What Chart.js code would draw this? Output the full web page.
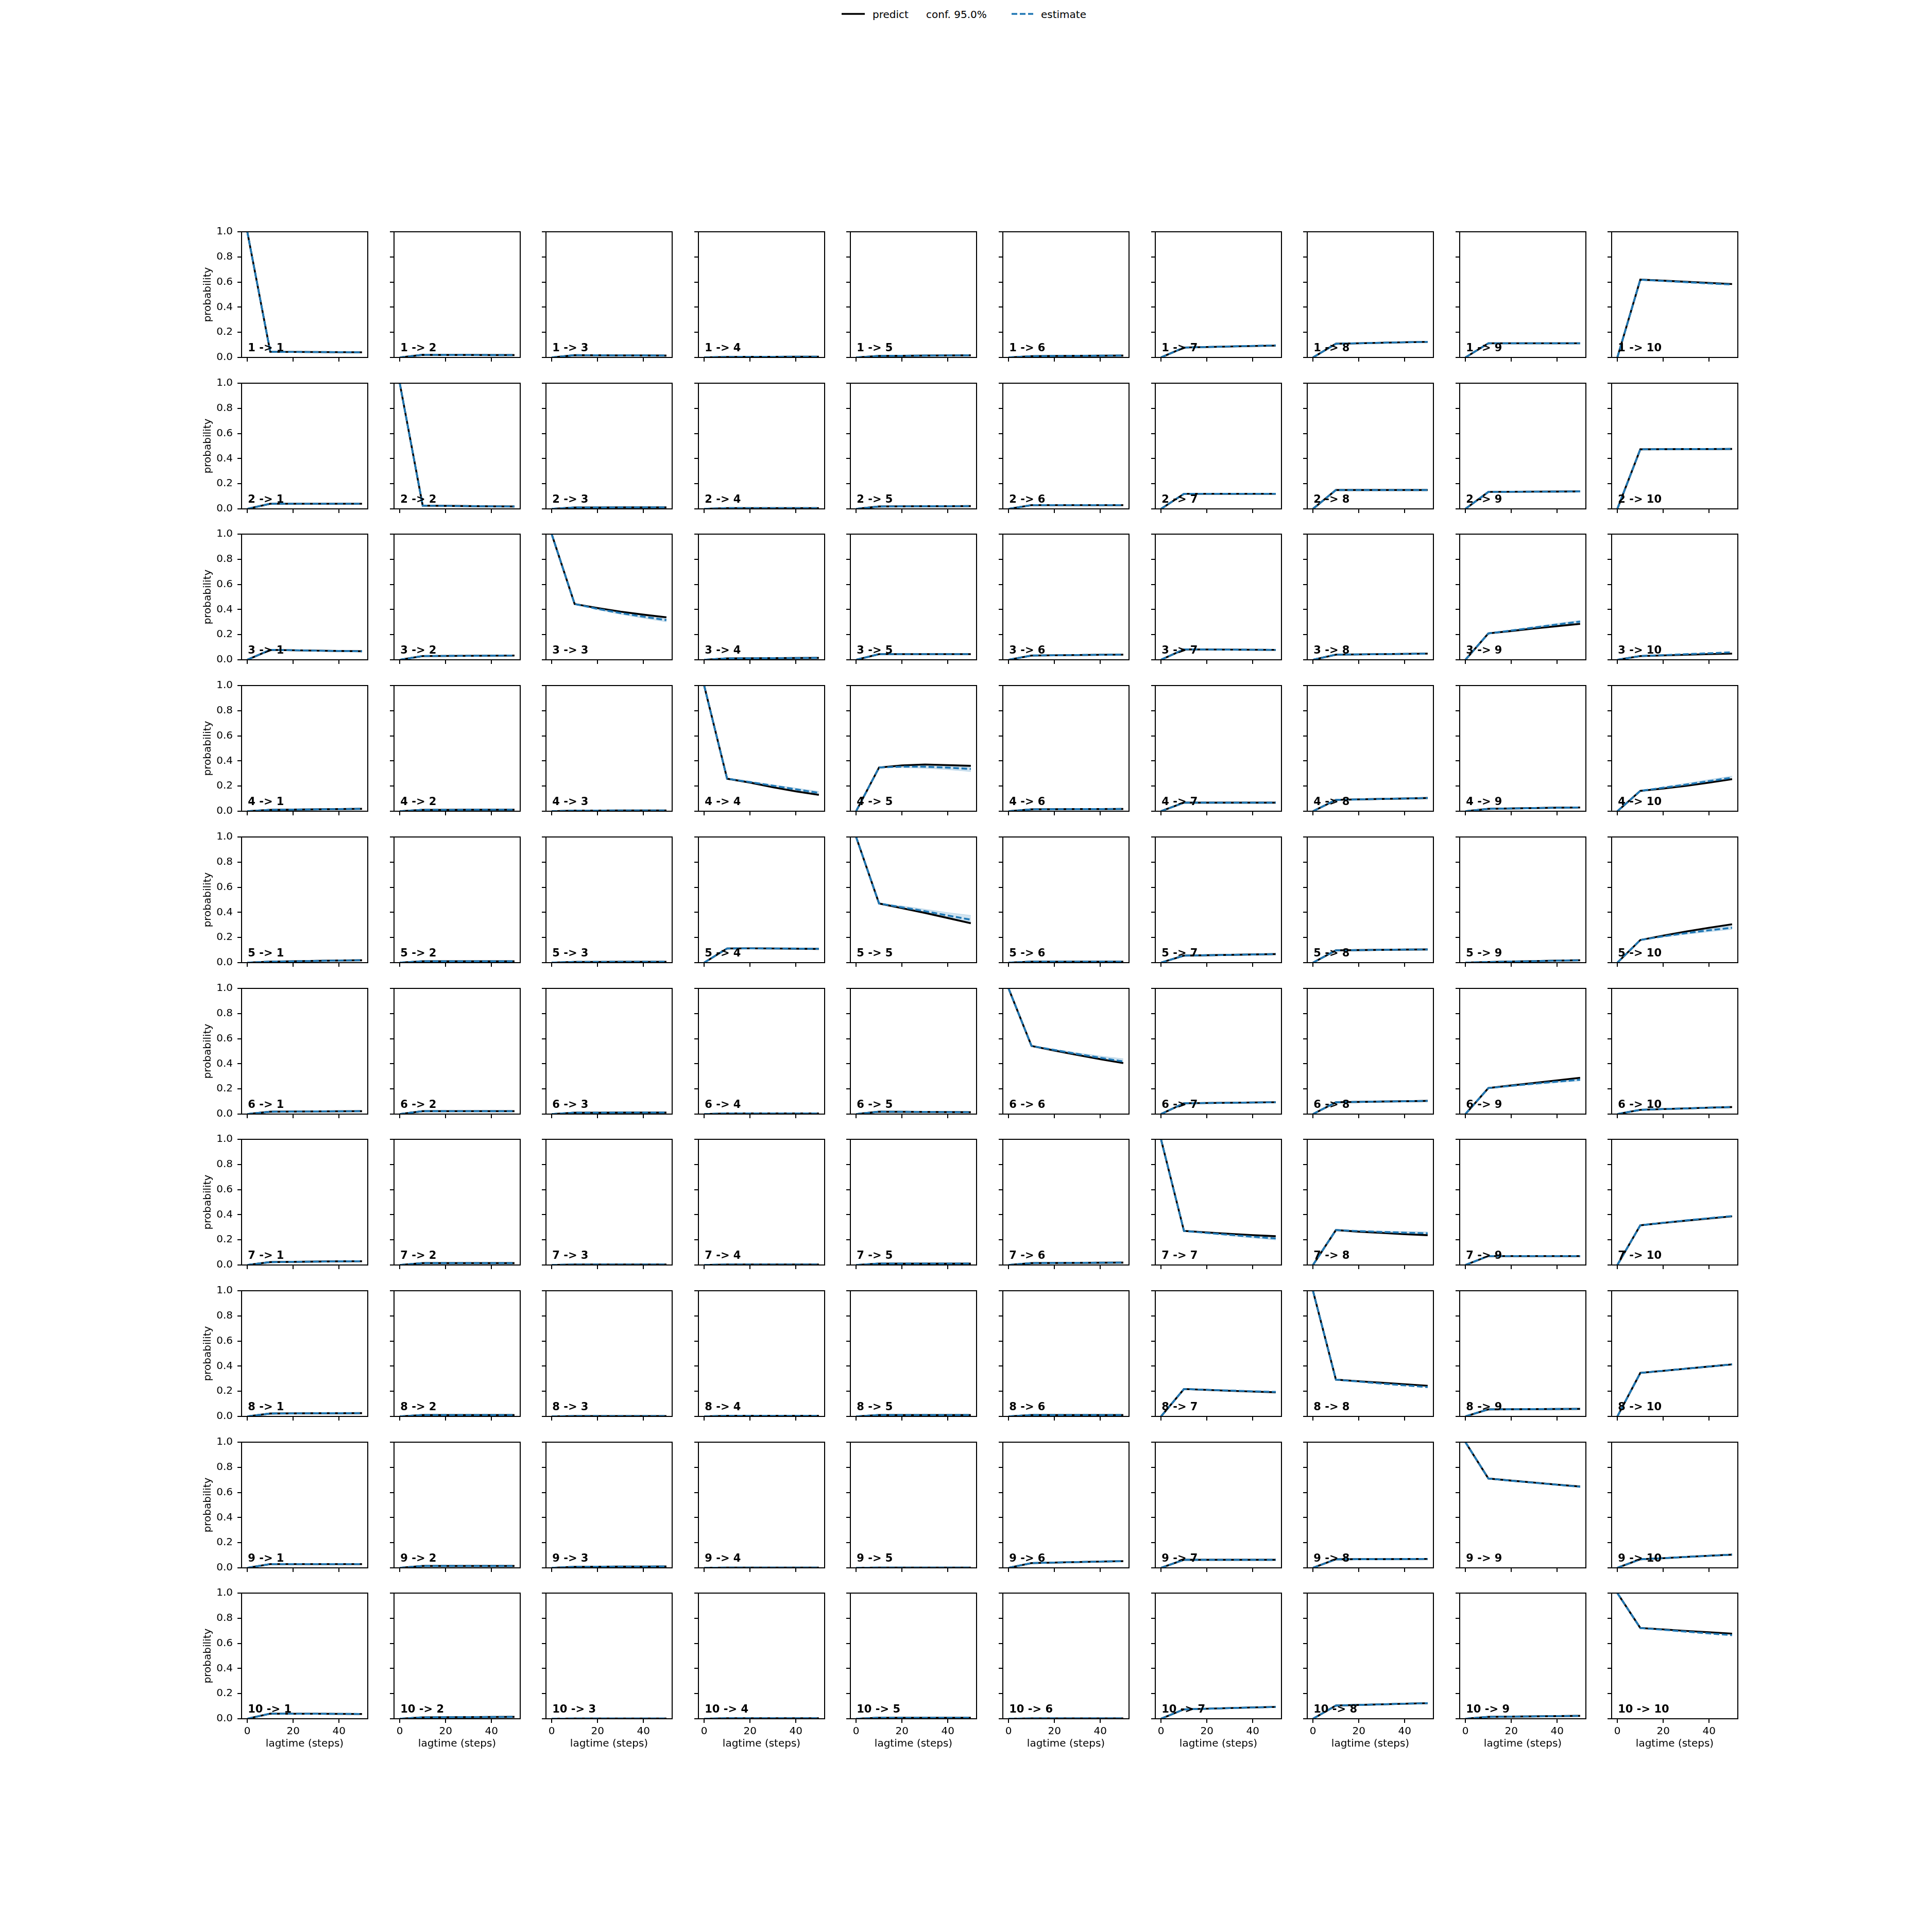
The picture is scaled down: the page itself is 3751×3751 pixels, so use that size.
<!DOCTYPE html>
<html lang="en">
<head>
<meta charset="UTF-8">
<title>Chapman-Kolmogorov test</title>
<script src="https://cdn.jsdelivr.net/npm/chart.js"></script>
<style>
  body { margin: 0; background: #fff; width: 3751px; height: 3751px; position: relative; overflow: hidden; font-family: "DejaVu Sans", sans-serif; }
  .panel { position: absolute; }
  .legend-text { position: absolute; font-size: 20px; line-height: 1; color: #000; white-space: nowrap; }
  .legend-handle { position: absolute; }
</style>
</head>
<body>

<div id="legend">
  <svg class="legend-handle" style="left:1634px; top:20px;" width="46" height="14"><line x1="0" y1="7" x2="45" y2="7" stroke="#000" stroke-width="3.6"/></svg>
  <span class="legend-text" style="left:1694px; top:18px;">predict</span>
  <span class="legend-text" style="left:1798px; top:18px;">conf. 95.0%</span>
  <svg class="legend-handle" style="left:1964px; top:20px;" width="46" height="14"><line x1="0" y1="7" x2="42" y2="7" stroke="#1f77b4" stroke-width="3.6" stroke-dasharray="11 5"/></svg>
  <span class="legend-text" style="left:2021px; top:18px;">estimate</span>
</div>
<div id="grid"></div>

<script>
const states = ['1', '2', '3', '4', '5', '6', '7', '8', '9', '10'];
const lagtimes = [0, 10, 20, 30, 40, 50];
const xTicks = [0, 20, 40];
const yTicks = [0, 0.2, 0.4, 0.6, 0.8, 1.0];

// predict[i][j] = model prediction i -> j at each lagtime
const predict = [
  [[1,.045,.044,.043,.042,.041],[0,.021,.020,.020,.019,.019],[0,.018,.017,.016,.016,.015],[0,.004,.005,.005,.006,.006],[0,.012,.013,.015,.016,.017],[0,.010,.012,.013,.014,.015],[0,.079,.083,.087,.091,.094],[0,.109,.113,.117,.121,.124],[0,.113,.113,.113,.113,.113],[0,.619,.611,.602,.593,.584]],
  [[0,.041,.041,.041,.041,.041],[1,.026,.024,.022,.020,.019],[0,.011,.011,.012,.012,.012],[0,.006,.006,.006,.006,.006],[0,.019,.020,.021,.021,.022],[0,.030,.030,.030,.030,.030],[0,.120,.120,.120,.120,.120],[0,.150,.150,.150,.150,.150],[0,.135,.136,.137,.138,.139],[0,.474,.475,.476,.476,.477]],
  [[0,.079,.076,.073,.070,.068],[0,.030,.031,.032,.033,.034],[1,.444,.412,.383,.359,.338],[0,.011,.012,.013,.014,.015],[0,.045,.045,.045,.045,.045],[0,.034,.036,.038,.040,.041],[0,.083,.082,.081,.080,.079],[0,.041,.043,.045,.047,.049],[0,.210,.229,.249,.268,.286],[0,.030,.035,.040,.045,.049]],
  [[0,.011,.013,.015,.017,.019],[0,.011,.011,.012,.012,.012],[0,.005,.005,.006,.006,.006],[1,.259,.228,.191,.158,.130],[0,.348,.365,.372,.367,.361],[0,.015,.016,.017,.017,.018],[0,.068,.068,.068,.068,.068],[0,.090,.094,.098,.101,.105],[0,.019,.022,.025,.028,.030],[0,.162,.180,.202,.228,.255]],
  [[0,.008,.011,.014,.017,.019],[0,.011,.011,.011,.011,.011],[0,.006,.006,.007,.007,.007],[0,.113,.114,.113,.111,.109],[1,.471,.433,.396,.355,.314],[0,.008,.008,.008,.008,.008],[0,.056,.059,.062,.065,.068],[0,.098,.100,.102,.104,.105],[0,.005,.009,.012,.016,.019],[0,.180,.215,.248,.278,.305]],
  [[0,.019,.020,.021,.022,.023],[0,.023,.023,.023,.023,.023],[0,.011,.011,.012,.012,.012],[0,.005,.005,.005,.005,.005],[0,.019,.018,.017,.016,.015],[1,.542,.505,.470,.437,.406],[0,.086,.088,.090,.092,.094],[0,.094,.097,.100,.102,.105],[0,.207,.228,.248,.268,.289],[0,.034,.040,.045,.051,.056]],
  [[0,.023,.025,.027,.029,.030],[0,.015,.015,.015,.015,.015],[0,.004,.004,.004,.004,.004],[0,.004,.004,.004,.004,.004],[0,.011,.011,.011,.011,.011],[0,.015,.016,.017,.018,.019],[1,.271,.259,.248,.238,.229],[0,.278,.265,.255,.245,.237],[0,.071,.071,.071,.071,.071],[0,.316,.335,.353,.370,.387]],
  [[0,.023,.024,.025,.025,.026],[0,.011,.011,.011,.011,.011],[0,.003,.003,.003,.003,.003],[0,.005,.005,.005,.005,.005],[0,.011,.011,.011,.011,.011],[0,.011,.011,.011,.011,.011],[0,.218,.211,.204,.198,.192],[1,.293,.280,.268,.256,.244],[0,.056,.057,.058,.059,.060],[0,.346,.363,.380,.397,.414]],
  [[0,.030,.030,.030,.030,.030],[0,.015,.015,.015,.015,.015],[0,.008,.009,.010,.010,.011],[0,.002,.002,.002,.002,.002],[0,.002,.002,.002,.002,.002],[0,.038,.042,.046,.050,.053],[0,.064,.064,.064,.064,.064],[0,.068,.069,.069,.070,.071],[1,.711,.694,.678,.662,.647],[0,.068,.077,.087,.096,.105]],
  [[0,.041,.040,.040,.039,.038],[0,.011,.012,.013,.014,.015],[0,.002,.002,.002,.002,.002],[0,.004,.004,.004,.004,.004],[0,.008,.008,.008,.008,.008],[0,.003,.003,.003,.003,.003],[0,.075,.080,.085,.090,.094],[0,.105,.110,.115,.120,.124],[0,.015,.017,.019,.021,.023],[1,.722,.711,.699,.688,.677]]
];

// estimate[i][j] = directly estimated i -> j at each lagtime
const estimate = [
  [[1,.045,.044,.043,.042,.041],[0,.021,.020,.020,.019,.019],[0,.018,.017,.016,.016,.015],[0,.004,.005,.005,.006,.006],[0,.012,.013,.015,.016,.017],[0,.010,.012,.013,.014,.015],[0,.079,.083,.088,.092,.096],[0,.109,.113,.117,.121,.124],[0,.113,.113,.113,.113,.113],[0,.619,.609,.599,.589,.580]],
  [[0,.041,.041,.041,.041,.041],[1,.026,.024,.022,.020,.019],[0,.011,.011,.012,.012,.012],[0,.006,.006,.006,.006,.006],[0,.019,.020,.021,.021,.022],[0,.030,.030,.030,.030,.030],[0,.120,.120,.120,.120,.120],[0,.150,.150,.150,.150,.150],[0,.135,.136,.137,.138,.139],[0,.474,.475,.476,.476,.477]],
  [[0,.079,.076,.073,.070,.068],[0,.030,.031,.032,.033,.034],[1,.444,.405,.372,.343,.316],[0,.011,.012,.013,.014,.015],[0,.045,.045,.045,.045,.045],[0,.034,.036,.038,.040,.041],[0,.083,.082,.081,.080,.079],[0,.041,.043,.045,.047,.049],[0,.210,.233,.257,.281,.304],[0,.030,.037,.045,.052,.060]],
  [[0,.011,.013,.015,.017,.019],[0,.011,.011,.012,.012,.012],[0,.005,.005,.006,.006,.006],[1,.259,.232,.203,.174,.146],[0,.348,.355,.354,.347,.336],[0,.015,.016,.017,.017,.018],[0,.068,.068,.068,.068,.068],[0,.090,.094,.098,.101,.105],[0,.019,.022,.025,.028,.030],[0,.162,.187,.212,.240,.267]],
  [[0,.008,.011,.014,.017,.019],[0,.011,.011,.011,.011,.011],[0,.006,.006,.007,.007,.007],[0,.113,.114,.113,.112,.110],[1,.471,.440,.410,.375,.342],[0,.008,.008,.008,.008,.008],[0,.056,.059,.062,.065,.068],[0,.098,.100,.102,.104,.105],[0,.005,.009,.012,.016,.019],[0,.180,.210,.235,.258,.278]],
  [[0,.019,.020,.021,.022,.023],[0,.023,.023,.023,.023,.023],[0,.011,.011,.012,.012,.012],[0,.005,.005,.005,.005,.005],[0,.019,.018,.017,.016,.015],[1,.542,.510,.478,.448,.419],[0,.086,.088,.090,.092,.094],[0,.094,.097,.100,.102,.105],[0,.207,.225,.242,.258,.274],[0,.034,.040,.045,.051,.056]],
  [[0,.023,.025,.027,.029,.030],[0,.015,.015,.015,.015,.015],[0,.004,.004,.004,.004,.004],[0,.004,.004,.004,.004,.004],[0,.011,.011,.011,.011,.011],[0,.015,.016,.017,.018,.019],[1,.271,.255,.240,.225,.211],[0,.278,.270,.263,.257,.252],[0,.071,.071,.071,.071,.071],[0,.316,.336,.355,.373,.390]],
  [[0,.023,.024,.025,.025,.026],[0,.011,.011,.011,.011,.011],[0,.003,.003,.003,.003,.003],[0,.005,.005,.005,.005,.005],[0,.011,.011,.011,.011,.011],[0,.011,.011,.011,.011,.011],[0,.218,.212,.206,.200,.195],[1,.293,.277,.261,.247,.233],[0,.056,.057,.058,.059,.060],[0,.346,.363,.380,.397,.414]],
  [[0,.030,.030,.030,.030,.030],[0,.015,.015,.015,.015,.015],[0,.008,.009,.010,.010,.011],[0,.002,.002,.002,.002,.002],[0,.002,.002,.002,.002,.002],[0,.038,.042,.046,.050,.053],[0,.064,.064,.064,.064,.064],[0,.068,.069,.069,.070,.071],[1,.711,.693,.677,.661,.645],[0,.068,.077,.087,.096,.105]],
  [[0,.041,.040,.040,.039,.038],[0,.011,.012,.013,.014,.015],[0,.002,.002,.002,.002,.002],[0,.004,.004,.004,.004,.004],[0,.008,.008,.008,.008,.008],[0,.003,.003,.003,.003,.003],[0,.075,.080,.085,.090,.094],[0,.105,.110,.115,.120,.124],[0,.015,.017,.019,.021,.023],[1,.722,.708,.693,.679,.665]]
];

// 95% confidence band of the estimate (null where it is too thin to see)
const confLow = [
  [null,null,null,null,null,null,null,null,null,null],
  [null,null,null,null,null,null,null,null,null,null],
  [null,null,[1,.444,.398,.362,.331,.302],null,null,null,null,null,[0,.210,.228,.250,.272,.294],null],
  [null,null,null,[1,.259,.226,.195,.164,.136],[0,.348,.346,.342,.331,.316],null,null,null,null,[0,.162,.180,.203,.229,.255]],
  [null,null,null,null,[1,.471,.432,.398,.358,.324],null,null,null,null,[0,.180,.203,.226,.246,.265]],
  [null,null,null,null,null,[1,.542,.506,.472,.440,.410],null,null,[0,.207,.221,.236,.250,.264],null],
  [null,null,null,null,null,null,[1,.271,.250,.232,.215,.199],[0,.278,.265,.256,.248,.241],null,null],
  [null,null,null,null,null,null,null,null,null,null],
  [null,null,null,null,null,null,null,null,null,null],
  [null,null,null,null,null,null,null,null,null,null]
];
const confHigh = [
  [null,null,null,null,null,null,null,null,null,null],
  [null,null,null,null,null,null,null,null,null,null],
  [null,null,[1,.444,.412,.382,.355,.330],null,null,null,null,null,[0,.210,.238,.264,.290,.314],null],
  [null,null,null,[1,.259,.238,.211,.184,.158],[0,.348,.362,.364,.360,.352],null,null,null,null,[0,.162,.194,.222,.252,.280]],
  [null,null,null,null,[1,.471,.452,.425,.398,.376],null,null,null,null,[0,.180,.217,.245,.270,.292]],
  [null,null,null,null,null,[1,.542,.516,.488,.462,.440],null,null,[0,.207,.229,.248,.266,.284],null],
  [null,null,null,null,null,null,[1,.271,.260,.248,.235,.223],[0,.278,.275,.270,.266,.263],null,null],
  [null,null,null,null,null,null,null,null,null,null],
  [null,null,null,null,null,null,null,null,null,null],
  [null,null,null,null,null,null,null,null,null,null]
];

// layout of the 10x10 grid (pixels)
const AX_LEFT0 = 469, COL_STEP = 295.6;
const AX_TOP0 = 450, ROW_STEP = 293.7;
const AX_W = 245, AX_H = 244;
const Y_W = 81, X_H = 65, PAD = 24;
const LW = 3.6, TICK_LEN = 8, TICK_W = 2, FRAME_W = 2;
const FONT = "'DejaVu Sans', sans-serif";
const BLUE = '#1f77b4';

// box around the axes + the "i -> j" label
const framePlugin = {
  id: 'frame',
  afterDatasetsDraw(chart, args, opts) {
    const ctx = chart.ctx;
    const a = chart.chartArea;
    ctx.save();
    ctx.strokeStyle = '#000';
    ctx.lineWidth = FRAME_W;
    ctx.strokeRect(a.left, a.top, a.right - a.left, a.bottom - a.top);
    ctx.font = 'bold 21px ' + FONT;
    ctx.fillStyle = '#000';
    ctx.textBaseline = 'alphabetic';
    ctx.textAlign = 'left';
    ctx.fillText(opts.text, a.left + 0.05 * (a.right - a.left), a.bottom - 0.05 * (a.bottom - a.top));
    ctx.restore();
  }
};

function toPoints(arr) {
  return lagtimes.map((x, k) => ({ x: x, y: arr[k] }));
}

function buildPanel(i, j) {
  const canvas = document.createElement('canvas');
  canvas.width = Y_W + AX_W + PAD;
  canvas.height = PAD + AX_H + X_H;
  canvas.className = 'panel';
  canvas.style.left = (Math.round(AX_LEFT0 + j * COL_STEP) - Y_W) + 'px';
  canvas.style.top = (Math.round(AX_TOP0 + i * ROW_STEP) - PAD) + 'px';
  document.getElementById('grid').appendChild(canvas);

  const datasets = [];
  if (confLow[i][j]) {
    datasets.push({ label: 'low', data: toPoints(confLow[i][j]), borderWidth: 1, borderColor: 'rgba(31,119,180,0.25)', pointRadius: 0, fill: false, order: 3, clip: 0 });
    datasets.push({ label: 'conf. 95.0%', data: toPoints(confHigh[i][j]), borderWidth: 1, borderColor: 'rgba(31,119,180,0.25)', pointRadius: 0, fill: '-1', backgroundColor: 'rgba(31,119,180,0.2)', order: 3, clip: 0 });
  }
  datasets.push({ label: 'predict', data: toPoints(predict[i][j]), borderColor: '#000', borderWidth: LW, pointRadius: 0, fill: false, order: 1, clip: 0 });
  datasets.push({ label: 'estimate', data: toPoints(estimate[i][j]), borderColor: BLUE, borderWidth: LW, borderDash: [11, 5], pointRadius: 0, fill: false, order: 0, clip: 0 });

  new Chart(canvas, {
    type: 'line',
    data: { datasets: datasets },
    plugins: [framePlugin],
    options: {
      responsive: false,
      animation: false,
      devicePixelRatio: 1,
      layout: { padding: { top: PAD, right: PAD, left: 0, bottom: 0 } },
      elements: { line: { tension: 0 } },
      plugins: {
        legend: { display: false },
        tooltip: { enabled: false },
        frame: { text: states[i] + ' -> ' + states[j] }
      },
      scales: {
        x: {
          type: 'linear', min: -2.5, max: 52.5,
          afterBuildTicks: s => { s.ticks = xTicks.map(v => ({ value: v })); },
          afterFit: s => { s.height = X_H; },
          border: { display: false },
          grid: { drawOnChartArea: false, color: '#000', lineWidth: TICK_W, tickLength: TICK_LEN },
          ticks: { display: i === 9, color: '#000', padding: 5, maxRotation: 0, font: { family: FONT, size: 20 }, callback: v => String(v) },
          title: { display: i === 9, text: 'lagtime (steps)', color: '#000', font: { family: FONT, size: 20 } }
        },
        y: {
          min: 0, max: 1,
          afterBuildTicks: s => { s.ticks = yTicks.map(v => ({ value: v })); },
          afterFit: s => { s.width = Y_W; },
          border: { display: false },
          grid: { drawOnChartArea: false, color: '#000', lineWidth: TICK_W, tickLength: TICK_LEN },
          ticks: { display: j === 0, color: '#000', padding: 9, font: { family: FONT, size: 20 }, callback: v => Number(v).toFixed(1) },
          title: { display: j === 0, text: 'probability', color: '#000', font: { family: FONT, size: 20 } }
        }
      }
    }
  });
}

for (let i = 0; i < states.length; i++) {
  for (let j = 0; j < states.length; j++) {
    buildPanel(i, j);
  }
}
</script>
</body>
</html>
